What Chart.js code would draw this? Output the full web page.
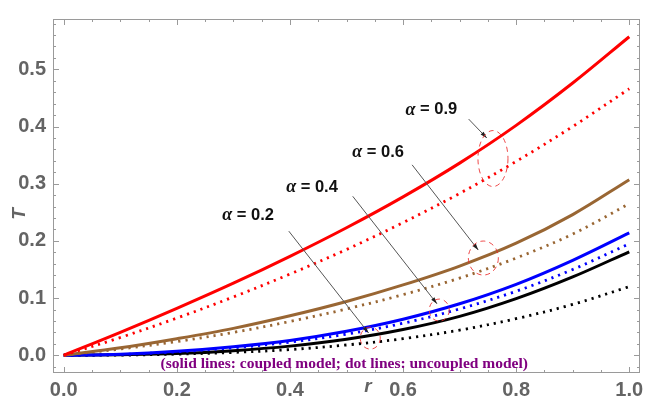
<!DOCTYPE html>
<html>
<head>
<meta charset="utf-8">
<script src="https://cdn.jsdelivr.net/npm/chart.js@4"></script>
<style>
  html, body { margin: 0; padding: 0; background: #fff; }
  #wrap { width: 652px; height: 403px; }
</style>
</head>
<body>
<div id="wrap"><canvas id="grafica" width="652" height="403"></canvas></div>
<script>
// values
const rValues = [0, 0.1, 0.2, 0.3, 0.4, 0.5, 0.6, 0.7, 0.8, 0.9, 1.0];
const redCoupled = [0, 0.040, 0.082, 0.126, 0.173, 0.223, 0.277, 0.336, 0.402, 0.476, 0.557];
const redUncoupled = [0, 0.031, 0.065, 0.102, 0.142, 0.185, 0.232, 0.283, 0.339, 0.400, 0.466];
const brownCoupled = [0, 0.013, 0.029, 0.047, 0.069, 0.094, 0.123, 0.156, 0.196, 0.246, 0.307];
const brownUncoupled = [0, 0.011, 0.024, 0.040, 0.059, 0.081, 0.106, 0.135, 0.170, 0.212, 0.265];
const blueCoupled = [0, 0.002, 0.007, 0.015, 0.026, 0.042, 0.063, 0.090, 0.124, 0.166, 0.214];
const blueUncoupled = [0, 0.0015, 0.006, 0.013, 0.023, 0.037, 0.056, 0.081, 0.112, 0.150, 0.195];
const blackCoupled = [0, 0.001, 0.003, 0.008, 0.016, 0.028, 0.045, 0.068, 0.099, 0.137, 0.181];
const blackUncoupled = [0, 0.0003, 0.002, 0.005, 0.010, 0.018, 0.029, 0.044, 0.064, 0.089, 0.120];
const xTickLabels = [0, 0.2, 0.4, 0.6, 0.8, 1.0];
const yTickLabels = [0, 0.1, 0.2, 0.3, 0.4, 0.5];
const xMinorTicks = [0.05, 0.1, 0.15, 0.25, 0.3, 0.35, 0.45, 0.5, 0.55, 0.65, 0.7, 0.75, 0.85, 0.9, 0.95];
const yMinorTicks = [-0.02, 0.02, 0.04, 0.06, 0.08, 0.12, 0.14, 0.16, 0.18, 0.22, 0.24, 0.26, 0.28,
  0.32, 0.34, 0.36, 0.38, 0.42, 0.44, 0.46, 0.48, 0.52, 0.54, 0.56, 0.58];

const alphaNotes = [
  { text: '0.9', at: [0.650, 0.429], from: [0.716, 0.413], to: [0.748, 0.380], ring: [0.759, 0.344, 15, 28] },
  { text: '0.6', at: [0.556, 0.354], from: [0.616, 0.333], to: [0.733, 0.184], ring: [0.742, 0.170, 15, 17] },
  { text: '0.4', at: [0.439, 0.294], from: [0.511, 0.278], to: [0.660, 0.090], ring: [0.664, 0.079, 10, 11] },
  { text: '0.2', at: [0.326, 0.245], from: [0.398, 0.217], to: [0.539, 0.039], ring: [0.542, 0.030, 10, 11] },
];

const GREY = '#646464';
const BROWN = 'rgb(153,102,51)';
const LABEL_FONT = '"Liberation Sans", Arial, sans-serif';

const solid = (data, color) => ({
  data: data.map((v, i) => ({ x: rValues[i], y: v })),
  borderColor: color,
  borderWidth: 3,
  pointRadius: 0,
  tension: 0.35,
});
const dotted = (data, color) => ({
  data: data.map((v, i) => ({ x: rValues[i], y: v })),
  borderColor: color,
  borderWidth: 2.8,
  borderDash: [2.2, 5],
  borderCapStyle: 'butt',
  pointRadius: 0,
  tension: 0.35,
});

// frame, inner ticks, axis names and the notes
const framePlugin = {
  id: 'frame',
  afterDraw(chart) {
    const { ctx, chartArea: a, scales: { x, y } } = chart;
    ctx.save();
    ctx.strokeStyle = '#9a9a9a';
    ctx.lineWidth = 1;
    ctx.strokeRect(a.left + 0.5, a.top + 0.5, a.right - a.left - 1, a.bottom - a.top - 1);
    const tick = (vals, len, horiz) => {
      vals.forEach((v) => {
        ctx.beginPath();
        if (horiz) {
          const px = Math.round(x.getPixelForValue(v)) + 0.5;
          ctx.moveTo(px, a.bottom); ctx.lineTo(px, a.bottom - len);
          ctx.moveTo(px, a.top); ctx.lineTo(px, a.top + len);
        } else {
          const py = Math.round(y.getPixelForValue(v)) + 0.5;
          ctx.moveTo(a.left, py); ctx.lineTo(a.left + len, py);
          ctx.moveTo(a.right, py); ctx.lineTo(a.right - len, py);
        }
        ctx.stroke();
      });
    };
    tick(xTickLabels, 6, true);
    tick(xMinorTicks, 3, true);
    tick(yTickLabels, 6, false);
    tick(yMinorTicks, 3, false);

    // axis names
    ctx.fillStyle = GREY;
    ctx.font = 'italic bold 19px ' + LABEL_FONT;
    ctx.textAlign = 'center';
    ctx.textBaseline = 'middle';
    ctx.fillText('r', x.getPixelForValue(0.538), a.bottom + 14);
    ctx.save();
    ctx.translate(20, y.getPixelForValue(0.247));
    ctx.rotate(-Math.PI / 2);
    ctx.fillText('T', 0, 0);
    ctx.restore();

    // note at the bottom
    ctx.fillStyle = '#800080';
    ctx.font = 'bold 15.5px "Liberation Serif", "Times New Roman", serif';
    ctx.fillText('(solid lines: coupled model; dot lines: uncoupled model)',
      x.getPixelForValue(0.496), y.getPixelForValue(-0.016));

    // alpha labels with arrows and dashed rings
    alphaNotes.forEach((n) => {
      const tx = x.getPixelForValue(n.at[0]);
      const ty = y.getPixelForValue(n.at[1]);
      ctx.fillStyle = '#111';
      ctx.font = 'italic bold 18px "Liberation Serif", serif';
      const aW = ctx.measureText('α').width;
      ctx.font = 'bold 16.5px ' + LABEL_FONT;
      const rest = ' = ' + n.text;
      const rW = ctx.measureText(rest).width;
      const start = tx - (aW + rW) / 2;
      ctx.textAlign = 'left';
      ctx.font = 'italic bold 18px "Liberation Serif", serif';
      ctx.fillText('α', start, ty);
      ctx.font = 'bold 16.5px ' + LABEL_FONT;
      ctx.fillText(rest, start + aW, ty);
      ctx.textAlign = 'center';

      const x1 = x.getPixelForValue(n.from[0]);
      const y1 = y.getPixelForValue(n.from[1]);
      const x2 = x.getPixelForValue(n.to[0]);
      const y2 = y.getPixelForValue(n.to[1]);
      ctx.strokeStyle = '#555';
      ctx.lineWidth = 1;
      ctx.beginPath();
      ctx.moveTo(x1, y1); ctx.lineTo(x2, y2);
      ctx.stroke();
      const ang = Math.atan2(y2 - y1, x2 - x1);
      ctx.fillStyle = '#222';
      ctx.beginPath();
      ctx.moveTo(x2, y2);
      ctx.lineTo(x2 - 7 * Math.cos(ang - 0.3), y2 - 7 * Math.sin(ang - 0.3));
      ctx.lineTo(x2 - 7 * Math.cos(ang + 0.3), y2 - 7 * Math.sin(ang + 0.3));
      ctx.closePath();
      ctx.fill();

      ctx.strokeStyle = 'rgba(235,40,40,0.85)';
      ctx.setLineDash([5, 4]);
      ctx.beginPath();
      ctx.ellipse(x.getPixelForValue(n.ring[0]), y.getPixelForValue(n.ring[1]),
        n.ring[2], n.ring[3], 0, 0, Math.PI * 2);
      ctx.stroke();
      ctx.setLineDash([]);
    });
    ctx.restore();
  },
};

// eslint-disable-next-line no-new, no-undef
new Chart(document.querySelector('#grafica'), {
  type: 'line',
  data: {
    datasets: [
      solid(redCoupled, '#ff0000'),
      dotted(redUncoupled, '#ff0000'),
      solid(brownCoupled, BROWN),
      dotted(brownUncoupled, BROWN),
      solid(blueCoupled, '#0000ff'),
      dotted(blueUncoupled, '#0000ff'),
      solid(blackCoupled, '#000000'),
      dotted(blackUncoupled, '#000000'),
    ],
  },
  options: {
    responsive: false,
    animation: false,
    layout: { padding: { left: 0, right: 12, top: 10, bottom: 0 } },
    plugins: { legend: { display: false }, tooltip: { enabled: false } },
    scales: {
      x: {
        type: 'linear',
        min: -0.019,
        max: 1.019,
        grid: { display: false, drawTicks: false },
        border: { display: false },
        afterBuildTicks: (s) => { s.ticks = xTickLabels.map((v) => ({ value: v })); },
        afterFit: (s) => { s.height = 30; },
        ticks: {
          color: GREY,
          padding: 5,
          maxRotation: 0,
          autoSkip: false,
          font: { family: LABEL_FONT, size: 20, weight: 'bold' },
          callback: (v) => v.toFixed(1),
        },
      },
      y: {
        type: 'linear',
        min: -0.031,
        max: 0.588,
        grid: { display: false, drawTicks: false },
        border: { display: false },
        afterBuildTicks: (s) => { s.ticks = yTickLabels.map((v) => ({ value: v })); },
        afterFit: (s) => { s.width = 53; },
        ticks: {
          color: GREY,
          padding: 7,
          autoSkip: false,
          font: { family: LABEL_FONT, size: 20, weight: 'bold' },
          callback: (v) => v.toFixed(1),
        },
      },
    },
  },
  plugins: [framePlugin],
});
</script>
</body>
</html>
